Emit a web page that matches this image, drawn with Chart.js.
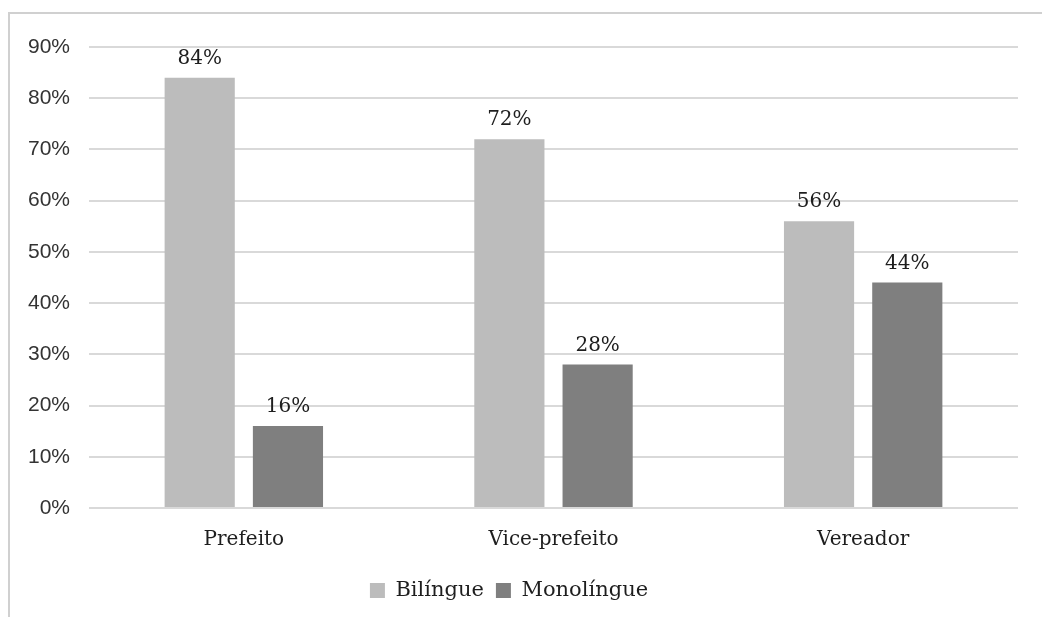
<!DOCTYPE html>
<html>
<head>
<meta charset="utf-8">
<script src="https://cdn.jsdelivr.net/npm/chart.js@4"></script>
<style>
  html, body { margin: 0; padding: 0; background: #fff; }
  #frame { position: absolute; left: 8px; top: 12px; width: 1100px; height: 700px;
           border-left: 2px solid #d0d0d0; border-top: 2px solid #d0d0d0; }
  #wrap { position: absolute; left: 0; top: 0; width: 1042px; height: 617px; }
</style>
</head>
<body>
<div id="frame"></div>
<div id="wrap"><canvas id="grafico" width="1042" height="617"></canvas></div>
<script>
// categorias e valores (%)
const categorias = ["Prefeito", "Vice-prefeito", "Vereador"];
const bilingue = [84, 72, 56];
const monolingue = [16, 28, 44];
const ticksY = [0, 10, 20, 30, 40, 50, 60, 70, 80, 90];

const serifa = "'DejaVu Serif', serif";
const sans = "'Liberation Sans', sans-serif";

// rótulos em cima das barras
const rotulos = {
    id: 'rotulos',
    afterDatasetsDraw(chart) {
        const ctx = chart.ctx;
        ctx.save();
        ctx.font = "20px " + serifa;
        ctx.fillStyle = '#1e1e1e';
        ctx.textAlign = 'center';
        ctx.textBaseline = 'bottom';
        chart.data.datasets.forEach((ds, i) => {
            chart.getDatasetMeta(i).data.forEach((bar, j) => {
                ctx.fillText(ds.data[j] + '%', bar.x, bar.y - 9);
            });
        });
        ctx.restore();
    }
};

new Chart(document.getElementById('grafico'), {
    type: 'bar',
    data: {
        labels: categorias,
        datasets: [
            { label: 'Bilíngue', data: bilingue, backgroundColor: '#bcbcbc',
              categoryPercentage: 0.57, barPercentage: 0.795 },
            { label: 'Monolíngue', data: monolingue, backgroundColor: '#7f7f7f',
              categoryPercentage: 0.57, barPercentage: 0.795 }
        ]
    },
    options: {
        responsive: false,
        animation: false,
        layout: { padding: { top: 47, right: 24, left: 0, bottom: 6 } },
        plugins: {
            tooltip: { enabled: false },
            legend: {
                position: 'bottom',
                labels: {
                    font: { family: serifa, size: 21 },
                    color: '#1e1e1e',
                    boxWidth: 15, boxHeight: 15,
                    padding: 12
                }
            }
        },
        scales: {
            x: {
                grid: { display: false },
                border: { display: false },
                ticks: { font: { family: serifa, size: 20 }, color: '#1e1e1e', padding: 12 },
                afterFit(s) { s.height = 60; }
            },
            y: {
                min: 0, max: 90,
                afterBuildTicks(s) { s.ticks = ticksY.map(v => ({ value: v })); },
                afterFit(s) { s.width = 89; },
                grid: { color: '#d9d9d9', lineWidth: 2, drawTicks: false },
                border: { display: false },
                ticks: {
                    font: { family: sans, size: 21 }, color: '#333333', padding: 19,
                    callback: v => v + '%'
                }
            }
        }
    },
    plugins: [rotulos]
});
</script>
</body>
</html>
